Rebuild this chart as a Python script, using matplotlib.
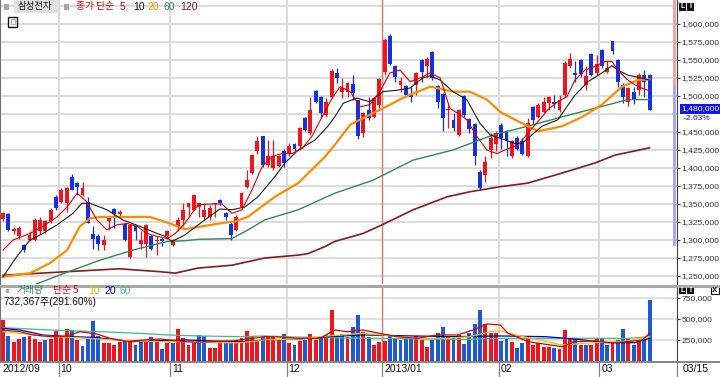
import numpy as np
import matplotlib
matplotlib.use("Agg")
import matplotlib.pyplot as plt
import matplotlib.transforms as mtransforms
from matplotlib.patches import Rectangle
from matplotlib.lines import Line2D

# -------------------- data (prices in 1,000 KRW, volume in 1,000 shares) --------------------
opens = [1329, 1336, 1312, 1306, 1293, 1300, 1300, 1312, 1312, 1326,
         1360, 1353, 1351, 1388, 1379, 1363, 1353, 1309, 1305, 1293,
         1326, 1343, 1336, 1322, 1276, 1319, 1295, 1295, 1306, 1298,
         1301, 1305, 1293, 1319, 1328, 1346, 1342, 1346, 1332, 1332,
         1350, 1356, 1337, 1322, 1314, 1346, 1374, 1393, 1423, 1444,
         1404, 1400, 1403, 1424, 1420, 1434, 1430, 1469, 1448, 1507,
         1498, 1474, 1499, 1532, 1506, 1506, 1517, 1495, 1448, 1481,
         1471, 1488, 1534, 1583, 1541, 1515, 1514, 1501, 1515, 1550,
         1541, 1561, 1514, 1503, 1480, 1467, 1446, 1500, 1468, 1461,
         1395, 1390, 1425, 1433, 1460, 1451, 1416, 1441, 1437, 1416,
         1485, 1471, 1478, 1490, 1492, 1480, 1501, 1541, 1532, 1550,
         1515, 1559, 1532, 1564, 1534, 1576, 1550, 1515, 1492, 1506,
         1508, 1529, 1529]
highs = [1339, 1337, 1318, 1319, 1295, 1312, 1330, 1332, 1328, 1344,
         1363, 1372, 1374, 1392, 1381, 1381, 1360, 1319, 1309, 1307,
         1332, 1345, 1342, 1324, 1322, 1321, 1312, 1322, 1307, 1305,
         1304, 1314, 1302, 1332, 1351, 1351, 1364, 1352, 1351, 1349,
         1351, 1357, 1339, 1326, 1335, 1366, 1397, 1420, 1444, 1445,
         1439, 1439, 1418, 1426, 1435, 1435, 1457, 1471, 1499, 1509,
         1500, 1497, 1538, 1539, 1525, 1520, 1529, 1495, 1478, 1499,
         1499, 1525, 1580, 1586, 1543, 1527, 1515, 1513, 1534, 1551,
         1554, 1562, 1515, 1504, 1488, 1476, 1482, 1501, 1469, 1462,
         1397, 1417, 1448, 1451, 1462, 1453, 1439, 1444, 1441, 1470,
         1486, 1490, 1499, 1500, 1501, 1501, 1548, 1560, 1548, 1551,
         1541, 1560, 1557, 1565, 1548, 1577, 1551, 1518, 1513, 1513,
         1532, 1536, 1531]
lows = [1327, 1312, 1309, 1302, 1284, 1298, 1298, 1309, 1310, 1323,
        1342, 1351, 1339, 1369, 1363, 1361, 1323, 1287, 1286, 1286,
        1314, 1316, 1332, 1299, 1275, 1300, 1288, 1277, 1286, 1279,
        1291, 1302, 1291, 1312, 1319, 1332, 1341, 1332, 1328, 1328,
        1332, 1349, 1328, 1300, 1312, 1344, 1372, 1392, 1420, 1402,
        1402, 1397, 1401, 1402, 1416, 1423, 1427, 1451, 1446, 1490,
        1469, 1471, 1497, 1518, 1497, 1499, 1495, 1440, 1443, 1467,
        1469, 1484, 1529, 1543, 1520, 1506, 1498, 1492, 1501, 1520,
        1527, 1522, 1484, 1451, 1455, 1451, 1445, 1471, 1448, 1404,
        1370, 1380, 1414, 1423, 1427, 1416, 1414, 1425, 1418, 1415,
        1460, 1470, 1477, 1481, 1483, 1478, 1499, 1539, 1520, 1527,
        1508, 1528, 1529, 1539, 1532, 1559, 1513, 1490, 1486, 1489,
        1501, 1499, 1480]
closes = [1337, 1314, 1315, 1316, 1286, 1307, 1328, 1328, 1326, 1342,
          1344, 1369, 1372, 1370, 1374, 1372, 1324, 1302, 1295, 1300,
          1330, 1336, 1339, 1300, 1321, 1312, 1300, 1321, 1287, 1300,
          1298, 1312, 1300, 1328, 1342, 1351, 1363, 1351, 1342, 1344,
          1351, 1352, 1332, 1307, 1332, 1365, 1383, 1418, 1438, 1404,
          1416, 1416, 1416, 1407, 1431, 1427, 1455, 1453, 1481, 1492,
          1476, 1491, 1535, 1525, 1511, 1518, 1504, 1444, 1476, 1470,
          1497, 1523, 1578, 1545, 1527, 1521, 1501, 1498, 1532, 1534,
          1552, 1525, 1492, 1469, 1482, 1455, 1481, 1474, 1454, 1417,
          1372, 1409, 1441, 1448, 1441, 1437, 1437, 1427, 1420, 1462,
          1467, 1488, 1492, 1498, 1489, 1495, 1546, 1551, 1529, 1531,
          1528, 1529, 1545, 1541, 1539, 1562, 1520, 1499, 1511, 1495,
          1529, 1520, 1480]
volumes = [488, 298, 230, 266, 290, 298, 266, 226, 250, 258,
           361, 298, 385, 369, 250, 179, 266, 472, 298, 210,
           218, 187, 226, 242, 242, 194, 242, 242, 282, 226,
           147, 218, 218, 377, 270, 190, 210, 310, 298, 151,
           151, 230, 210, 242, 210, 270, 357, 298, 250, 290,
           290, 290, 258, 322, 218, 190, 242, 250, 322, 250,
           270, 310, 607, 310, 322, 290, 409, 548, 349, 290,
           190, 230, 242, 310, 258, 250, 270, 258, 298, 250,
           171, 250, 329, 409, 282, 290, 310, 202, 329, 441,
           607, 441, 329, 329, 242, 258, 230, 151, 210, 270,
           190, 210, 163, 171, 151, 139, 369, 270, 258, 190,
           190, 190, 270, 270, 190, 210, 250, 377, 258, 190,
           242, 251, 732]

# moving averages: (day index, value)
ma5_pts = [(0, 1286), (1.9, 1300), (5.1, 1309), (7.5, 1319), (10.2, 1332), (12.1, 1346), (14, 1365),
           (15.8, 1353), (17.7, 1328), (19.6, 1314), (21.5, 1321), (23.4, 1323), (25.3, 1319),
           (27.2, 1309), (29.1, 1305), (31, 1302), (32.5, 1309), (34.3, 1323), (36.8, 1349),
           (39.4, 1350), (41.3, 1350), (43.2, 1337), (45.1, 1342), (47, 1370), (48.9, 1402),
           (50.8, 1416), (52.6, 1420), (54.5, 1420), (56.4, 1427), (58.3, 1444), (60.2, 1471),
           (62.1, 1497), (63.6, 1513), (65.5, 1506), (67.4, 1485), (69.2, 1488), (71.1, 1506),
           (73, 1532), (74.9, 1536), (76.8, 1520), (78.7, 1525), (80.6, 1532), (82.5, 1525),
           (84.3, 1483), (86.2, 1474), (87.5, 1467), (89.4, 1444), (91.3, 1425), (93.2, 1420),
           (94.7, 1425), (97.2, 1432), (99, 1448), (100.9, 1464), (102.8, 1481), (104.7, 1492),
           (106.4, 1499), (107.9, 1522), (109.8, 1536), (111.7, 1541), (113.6, 1548), (114.9, 1548),
           (116, 1536), (117.9, 1522), (119.8, 1513), (122, 1507)]
ma10_pts = [(0, 1249), (2.6, 1277), (5.1, 1300), (7.5, 1309), (10.2, 1321), (13.2, 1337), (14.9, 1351),
            (16.4, 1351), (19.6, 1342), (22.6, 1328), (25.8, 1319), (29.1, 1309), (30.6, 1305),
            (31.9, 1298), (34.3, 1307), (38.1, 1328), (40.9, 1343), (43.2, 1342), (45.7, 1346),
            (48.1, 1360), (51.3, 1388), (53.2, 1407), (55.7, 1425), (58.9, 1439), (61.3, 1458),
            (62.6, 1471), (64.2, 1490), (66.8, 1497), (69.2, 1492), (71.7, 1506), (74.3, 1508),
            (76.8, 1511), (79.2, 1525), (80.6, 1528), (82.5, 1522), (84.9, 1506), (87.5, 1495),
            (90, 1462), (91.9, 1446), (93.8, 1441), (94.7, 1439), (96.6, 1434), (97.9, 1434),
            (99, 1441), (101.7, 1458), (104.7, 1467), (106, 1481), (107.9, 1501), (110.4, 1520),
            (113, 1532), (114.9, 1542), (116, 1536), (117.9, 1529), (119.8, 1526), (122, 1522)]
ma20_pts = [(0, 1249), (5.1, 1254), (8.9, 1268), (12.1, 1286), (14.5, 1319), (16.4, 1330), (18.3, 1332),
            (24.5, 1332), (27.7, 1332), (31.5, 1323), (34.3, 1315), (40, 1322), (43.8, 1326),
            (46.2, 1332), (51.3, 1360), (55.7, 1379), (60.8, 1416), (62.6, 1432), (65.5, 1460),
            (69.2, 1474), (71.7, 1483), (76.2, 1500), (80.6, 1513), (84.9, 1506), (88.1, 1506),
            (91.3, 1495), (93.8, 1478), (96.6, 1467), (101, 1451), (105.5, 1458), (109.3, 1471),
            (113, 1488), (116.8, 1513), (119.8, 1522), (122, 1523)]
ma60_pts = [(6, 1238), (12, 1255), (18.3, 1272), (24.5, 1286), (31, 1298), (34.4, 1299), (37, 1301),
            (43.2, 1302), (46.2, 1314), (49.4, 1328), (55.7, 1342), (62.6, 1365), (69.8, 1383),
            (77.4, 1411), (84.9, 1425), (92.5, 1446), (99, 1458), (105.5, 1471), (111.7, 1483),
            (117.9, 1495), (122, 1495)]
ma120_pts = [(0, 1251), (14.5, 1257), (22, 1260), (29.6, 1256), (32.5, 1254), (36.8, 1261), (43.2, 1265),
             (49.4, 1275), (55.7, 1279), (57.5, 1281), (60.8, 1291), (62.6, 1298), (67.9, 1309),
             (71.5, 1321), (77.4, 1342), (83.8, 1360), (88.1, 1367), (93.8, 1374), (99, 1379),
             (105.5, 1393), (111.7, 1407), (115.5, 1418), (122, 1428)]

vma5_pts = [(0, 369), (3.2, 349), (5.7, 310), (8.9, 290), (12.1, 298), (14.5, 349), (17.7, 321), (20.2, 270),
            (23.4, 232), (26.4, 250), (29.6, 262), (32.8, 240), (35.8, 225), (39.6, 230), (43.4, 240),
            (46.5, 265), (49.4, 290), (52.5, 285), (55.7, 270), (59.8, 270), (62.6, 369), (64.9, 349),
            (67.9, 369), (71.1, 329), (74.3, 290), (78.1, 270), (81.9, 310), (85.7, 310), (88.7, 369),
            (91.3, 441), (93.8, 429), (95.3, 330), (99.1, 230), (102.3, 200), (105.5, 170), (107.9, 230),
            (111.7, 240), (114.9, 215), (117.9, 230), (120.6, 250), (122, 329)]
vma10_pts = [(0, 349), (3.2, 329), (7.5, 298), (12.1, 282), (17, 266), (21.5, 250), (26, 238), (29.6, 230),
             (34.7, 230), (39.6, 218), (44.7, 218), (49.4, 250), (55.7, 262), (61.7, 300), (67.9, 329),
             (71.7, 310), (77.4, 270), (83.8, 270), (88.1, 290), (91.9, 349), (93.8, 360), (96.6, 310),
             (100.9, 255), (105.5, 190), (109.2, 210), (113.6, 225), (117.9, 238), (122, 290)]
vma20_pts = [(0, 389), (3.2, 369), (7.5, 310), (12.1, 290), (17, 282), (20.8, 258), (24.5, 230), (29.6, 242),
             (34.7, 250), (39.6, 238), (44.7, 230), (49.4, 250), (55.7, 262), (61.7, 290), (67.9, 310),
             (77.4, 298), (85, 290), (93.8, 298), (102.3, 290), (108.5, 258), (113.6, 218), (119.2, 218),
             (122, 270)]
vma60_pts = [(0, 397), (8.9, 369), (18.3, 349), (25.8, 329), (31, 310), (37.2, 298), (44.7, 290), (49.4, 298),
             (55.7, 285), (62.6, 275), (71, 270), (80, 262), (88, 258), (93.8, 270), (103, 270), (112, 270),
             (118, 270), (122, 290)]

month_labels = ["2012/09", "10", "11", "12", "2013/01", "02", "03"]
month_start = [0, 11, 32, 54, 72, 94, 113]
price_ticks = [1250, 1275, 1300, 1325, 1350, 1375, 1400, 1425, 1450, 1500, 1525, 1550, 1575, 1600]
vol_ticks = [250, 500, 750]
last_price, last_chg = 1480000, -2.63
last_vol, last_vol_pct = 732367, 291.60

# -------------------- layout helpers (pixel -> figure coords) --------------------
W, H = 720, 377
KR = ["Noto Sans CJK KR", "DejaVu Sans"]
NUM = ["Liberation Sans", "Noto Sans CJK KR", "DejaVu Sans"]
plt.rcParams["font.family"] = NUM
AXFS = 6.1  # right axis label size


def fx(px):
    return px / W


def fy(py):
    return 1 - py / H


def ftext(px, py, s, **kw):
    return fig.text(fx(px), fy(py), s, va="center", **kw)


def frect(x0, y0, x1, y1, **kw):
    fig.patches.append(Rectangle((fx(x0), fy(y1)), fx(x1) - fx(x0), fy(y0) - fy(y1),
                                 transform=fig.transFigure, figure=fig, **kw))


def fline(xs, ys, **kw):
    fig.lines.append(Line2D([fx(v) for v in xs], [fy(v) for v in ys],
                            transform=fig.transFigure, figure=fig, **kw))


fig = plt.figure(figsize=(W / 100, H / 100), dpi=100)
ax = fig.add_axes([0, fy(284), fx(677), 284 / H])
axv = fig.add_axes([0, fy(361), fx(677), (361 - 287) / H])

STEP = 5.3  # px per day
xlim = (-3 / STEP, (677 - 3) / STEP)

n = len(closes)
idx = np.arange(n)
O = np.array(opens) * 1000.0
Hh = np.array(highs) * 1000.0
L = np.array(lows) * 1000.0
C = np.array(closes) * 1000.0
V = np.array(volumes) * 1000.0

RED, BLUE = "#f0141e", "#1430e6"
GRID = "#dadada"

# -------------------- price panel --------------------
for v in range(1250, 1650, 25):
    ax.axhline(v * 1000, color=GRID, lw=1.4, zorder=0)
edges = [s - 0.5 for s in month_start[1:]]
for e in edges:
    if e == 71.5:
        continue
    ax.axvline(e, color=GRID, lw=1.4, zorder=0)
    axv.axvline(e, color=GRID, lw=1.4, zorder=0)
ax.axvline(71.5, color="#f07070", lw=1.0, zorder=1)
axv.axvline(71.5, color="#f07070", lw=1.0, zorder=1)

cols = np.where(C >= O, RED, BLUE)
ax.vlines(idx, L, Hh, colors=cols, lw=0.9, zorder=3)
ax.bar(idx, np.maximum(np.abs(C - O), 1000), bottom=np.minimum(O, C), width=0.72,
       color=cols, lw=0, zorder=3)

for pts, c, lw in [(ma120_pts, "#8b1a1a", 1.2), (ma60_pts, "#2e8b57", 1.0),
                   (ma20_pts, "#ff8c00", 1.6), (ma10_pts, "#1e1e1e", 0.8),
                   (ma5_pts, "#e00000", 0.8)]:
    px, pv = zip(*pts)
    ax.plot(px, np.array(pv) * 1000, color=c, lw=lw, zorder=4)

# range strip on the right edge of the plot
tr = mtransforms.blended_transform_factory(ax.transAxes, ax.transData)
ax.add_patch(Rectangle((673 / 677, 1515000), 3 / 677, 200000, transform=tr, color="#f2a0a0", lw=0, zorder=2))
ax.add_patch(Rectangle((673 / 677, 1292000), 3 / 677, 223000, transform=tr, color="#a8a8f0", lw=0, zorder=2))

ax.set_xlim(*xlim)
ax.set_ylim(1238900, 1633300)
ax.yaxis.tick_right()
ax.set_yticks([t * 1000 for t in price_ticks])
ax.set_yticklabels([f"{t * 1000:,}" for t in price_ticks])
ax.tick_params(axis="y", length=2, width=0.8, pad=1, labelsize=AXFS, colors="#333333")
ax.tick_params(axis="x", bottom=False, labelbottom=False)
ax.spines["top"].set_visible(False)
ax.spines["bottom"].set_visible(False)
ax.spines["left"].set_color("#707070")
ax.spines["right"].set_color("#404040")

# -------------------- volume panel --------------------
vcols = [RED] + [RED if C[i] >= C[i - 1] else "#1e5ad2" for i in range(1, n)]
for t in vol_ticks:
    axv.axhline(t * 1000, color=GRID, lw=1.2, zorder=0)
axv.bar(idx, V, width=0.75, color=vcols, lw=0, zorder=2)
for pts, c in [(vma60_pts, "#3cc080"), (vma20_pts, "#0000cc"), (vma10_pts, "#f0c000"), (vma5_pts, "#e00000")]:
    px, pv = zip(*pts)
    axv.plot(px, np.array(pv) * 1000, color=c, lw=0.9, zorder=3)
axv.set_xlim(*xlim)
axv.set_ylim(0, 881000)
axv.yaxis.tick_right()
axv.set_yticks([t * 1000 for t in vol_ticks])
axv.set_yticklabels([f"{t * 1000:,}" for t in vol_ticks])
axv.tick_params(axis="y", length=2, width=0.8, pad=1, labelsize=AXFS, colors="#333333")
axv.tick_params(axis="x", bottom=False, labelbottom=False)
for s in ["top", "bottom"]:
    axv.spines[s].set_visible(False)
axv.spines["left"].set_color("#707070")
axv.spines["right"].set_color("#404040")

# -------------------- frame lines / date axis --------------------
fline([0, 720], [285.5, 285.5], color="#a8a8a8", lw=2.2)
fline([0, 720], [362, 362], color="#707070", lw=1.2)
for e in edges:
    xp = 3 + STEP * e
    fline([xp, xp], [362, 377], color="#808080", lw=0.9)
fline([677, 677], [362, 377], color="#808080", lw=0.9)
for lab, s in zip(month_labels, month_start):
    xp = 2 if s == 0 else 3 + STEP * (s - 0.5) + 2
    ftext(xp, 369.5, lab, fontsize=7.5, color="#111111")
ftext(683, 369.5, "03/15", fontsize=7.5, color="#111111")

# -------------------- legends --------------------
frect(4, 4, 9, 10, color="#a8a8a8", lw=0)
frect(14, 0, 59, 13, color="#e2e2e2", lw=0)
ftext(18, 6.5, "삼성전자", fontsize=6.8, color="#111111", family=KR)
frect(64, 4, 69, 10, color="#a8a8a8", lw=0)
ftext(76, 6.5, "종가 단순", fontsize=7, color="#e00000", family=KR)
for xp, s, c in [(120, "5", "#e00000"), (133, "10", "#111111"), (147, "20", "#ff8c00"),
                 (164, "60", "#2e8b57"), (180, "120", "#8b1a1a")]:
    ftext(xp, 6.5, s, fontsize=7.5, color=c)
frect(8, 17, 17, 27, fc="white", ec="#111111", lw=1)
frect(10.5, 19.5, 14.5, 24, fc="none", ec="#b0b0b0", lw=0.8)

frect(6, 289, 9, 293, color="#a8a8a8", lw=0)
ftext(17, 290.5, "거래량", fontsize=7, color="#2a8a7a", family=KR)
ftext(53, 290.5, "단순 5", fontsize=7, color="#e00000", family=KR)
for xp, s, c in [(88, "10", "#e8b800"), (104, "20", "#0000cc"), (119, "60", "#3cc080")]:
    ftext(xp, 290.5, s, fontsize=7.5, color=c)
ftext(4, 302, f"{last_vol:,}주({last_vol_pct:.2f}%)", fontsize=7.3, color="#111111", family=NUM)

# small "L I" / "X" buttons
for yb in [3, 286]:
    frect(679, yb, 686, yb + 8, color="#111111", lw=0)
    frect(687, yb, 694, yb + 8, color="#111111", lw=0)
    ftext(682.5, yb + 4, "L", fontsize=5, color="white", ha="center", weight="bold")
    ftext(690.5, yb + 4, "I", fontsize=5, color="white", ha="center", weight="bold")
frect(711, 287, 719, 294, fc="white", ec="#111111", lw=0.8)
ftext(715, 290.5, "X", fontsize=5.5, color="#111111", ha="center", weight="bold")

# current price box
frect(680, 104, 720, 114, color="#1414e6", lw=0)
ftext(681, 109, f"{last_price:,}", fontsize=AXFS, color="white")
ftext(684, 118.5, f"{last_chg:.2f}%", fontsize=AXFS, color="#1414e6")

fig.savefig("out.png", dpi=100)
